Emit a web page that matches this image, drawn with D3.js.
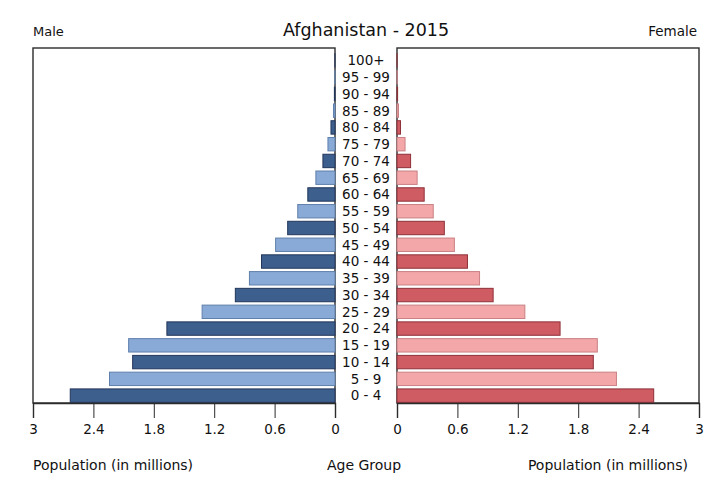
<!DOCTYPE html>
<html>
<head>
<meta charset="utf-8">
<script src="https://cdn.jsdelivr.net/npm/d3@7"></script>
<style>
  body { margin: 0; background: #fff; }
  svg { font-family: "DejaVu Sans", sans-serif; }
</style>
</head>
<body>
<svg id="chart" width="727" height="494"></svg>
<script>
var AGE_GROUPS = ["100+", "95 - 99", "90 - 94", "85 - 89", "80 - 84", "75 - 79", "70 - 74",
    "65 - 69", "60 - 64", "55 - 59", "50 - 54", "45 - 49", "40 - 44", "35 - 39",
    "30 - 34", "25 - 29", "20 - 24", "15 - 19", "10 - 14", "5 - 9", "0 - 4"];

// millions, same order as AGE_GROUPS
var MALE = [0.0005, 0.002, 0.006, 0.015, 0.04, 0.07, 0.12, 0.19, 0.27, 0.37, 0.47, 0.59,
    0.73, 0.85, 0.99, 1.32, 1.67, 2.05, 2.01, 2.24, 2.63];
var FEMALE = [0.0005, 0.002, 0.006, 0.015, 0.035, 0.08, 0.135, 0.20, 0.27, 0.36, 0.47, 0.57,
    0.70, 0.82, 0.955, 1.27, 1.62, 1.99, 1.95, 2.18, 2.55];

var TICKS = [0, 0.6, 1.2, 1.8, 2.4, 3];

var svg = d3.select('#chart');
var plotTop = 48, plotBottom = 403;

// scales
var y = d3.scaleBand().domain(AGE_GROUPS).range([52, 404])
    .paddingInner(0.2).paddingOuter(0.1);
var xLeft = d3.scaleLinear().domain([0, 3]).range([335, 33]);
var xRight = d3.scaleLinear().domain([0, 3]).range([397, 699]);

// colours alternate dark / light from the bottom group up
function isDark(i){ return (AGE_GROUPS.length - 1 - i) % 2 == 0; }
var maleFill = ['#3d5f8e', '#89aad6'], maleStroke = ['#22365a', '#5f80ab'];
var femaleFill = ['#d05c63', '#f3a7a9'], femaleStroke = ['#8e3038', '#c98084'];

// panel boxes
[[33, 335], [397, 699]].forEach(function(p){
    svg.append('rect')
        .attr('x', p[0]).attr('y', plotTop)
        .attr('width', p[1] - p[0]).attr('height', plotBottom - plotTop)
        .attr('fill', 'none').attr('stroke', '#2b2b2b').attr('stroke-width', 1.4);
});

svg.append('g').selectAll('rect')
    .data(MALE)
    .enter().append('rect')
        .attr('x', function(d){ return xLeft(d); })
        .attr('y', function(d, i){ return y(AGE_GROUPS[i]); })
        .attr('width', function(d){ return xLeft(0) - xLeft(d); })
        .attr('height', y.bandwidth())
        .attr('fill', function(d, i){ return maleFill[isDark(i) ? 0 : 1]; })
        .attr('stroke', function(d, i){ return maleStroke[isDark(i) ? 0 : 1]; })
        .attr('stroke-width', 1);

svg.append('g').selectAll('rect')
    .data(FEMALE)
    .enter().append('rect')
        .attr('x', xRight(0))
        .attr('y', function(d, i){ return y(AGE_GROUPS[i]); })
        .attr('width', function(d){ return xRight(d) - xRight(0); })
        .attr('height', y.bandwidth())
        .attr('fill', function(d, i){ return femaleFill[isDark(i) ? 0 : 1]; })
        .attr('stroke', function(d, i){ return femaleStroke[isDark(i) ? 0 : 1]; })
        .attr('stroke-width', 1);

// age labels in the middle column
svg.append('g').selectAll('text')
    .data(AGE_GROUPS)
    .enter().append('text')
        .attr('x', 366)
        .attr('y', function(d){ return y(d) + y.bandwidth() / 2; })
        .attr('dy', '0.36em')
        .attr('text-anchor', 'middle')
        .attr('font-size', 13.5)
        .attr('fill', '#111')
        .text(function(d){ return d; });

// bottom axes
function drawAxis(scale){
    var g = svg.append('g')
        .attr('transform', 'translate(0,' + plotBottom + ')')
        .call(d3.axisBottom(scale).tickValues(TICKS).tickSize(15).tickPadding(6)
            .tickFormat(function(d){ return d; }));
    g.select('.domain').attr('stroke', '#2b2b2b').attr('stroke-width', 1.4);
    g.selectAll('.tick line').attr('stroke', '#2b2b2b');
    g.selectAll('.tick text').attr('font-size', 13.5).attr('fill', '#111')
        .attr('font-family', '"DejaVu Sans", sans-serif');
}
drawAxis(xLeft);
drawAxis(xRight);

// titles
svg.append('text').attr('x', 366).attr('y', 36).attr('text-anchor', 'middle')
    .attr('font-size', 17.5).attr('fill', '#111').text('Afghanistan - 2015');
svg.append('text').attr('x', 33).attr('y', 36)
    .attr('font-size', 13).attr('fill', '#111').text('Male');
svg.append('text').attr('x', 697).attr('y', 36).attr('text-anchor', 'end')
    .attr('font-size', 13.5).attr('fill', '#111').text('Female');

svg.append('text').attr('x', 33).attr('y', 470)
    .attr('font-size', 14).attr('fill', '#111').text('Population (in millions)');
svg.append('text').attr('x', 364).attr('y', 470).attr('text-anchor', 'middle')
    .attr('font-size', 14).attr('fill', '#111').text('Age Group');
svg.append('text').attr('x', 688).attr('y', 470).attr('text-anchor', 'end')
    .attr('font-size', 14).attr('fill', '#111').text('Population (in millions)');
</script>
</body>
</html>
